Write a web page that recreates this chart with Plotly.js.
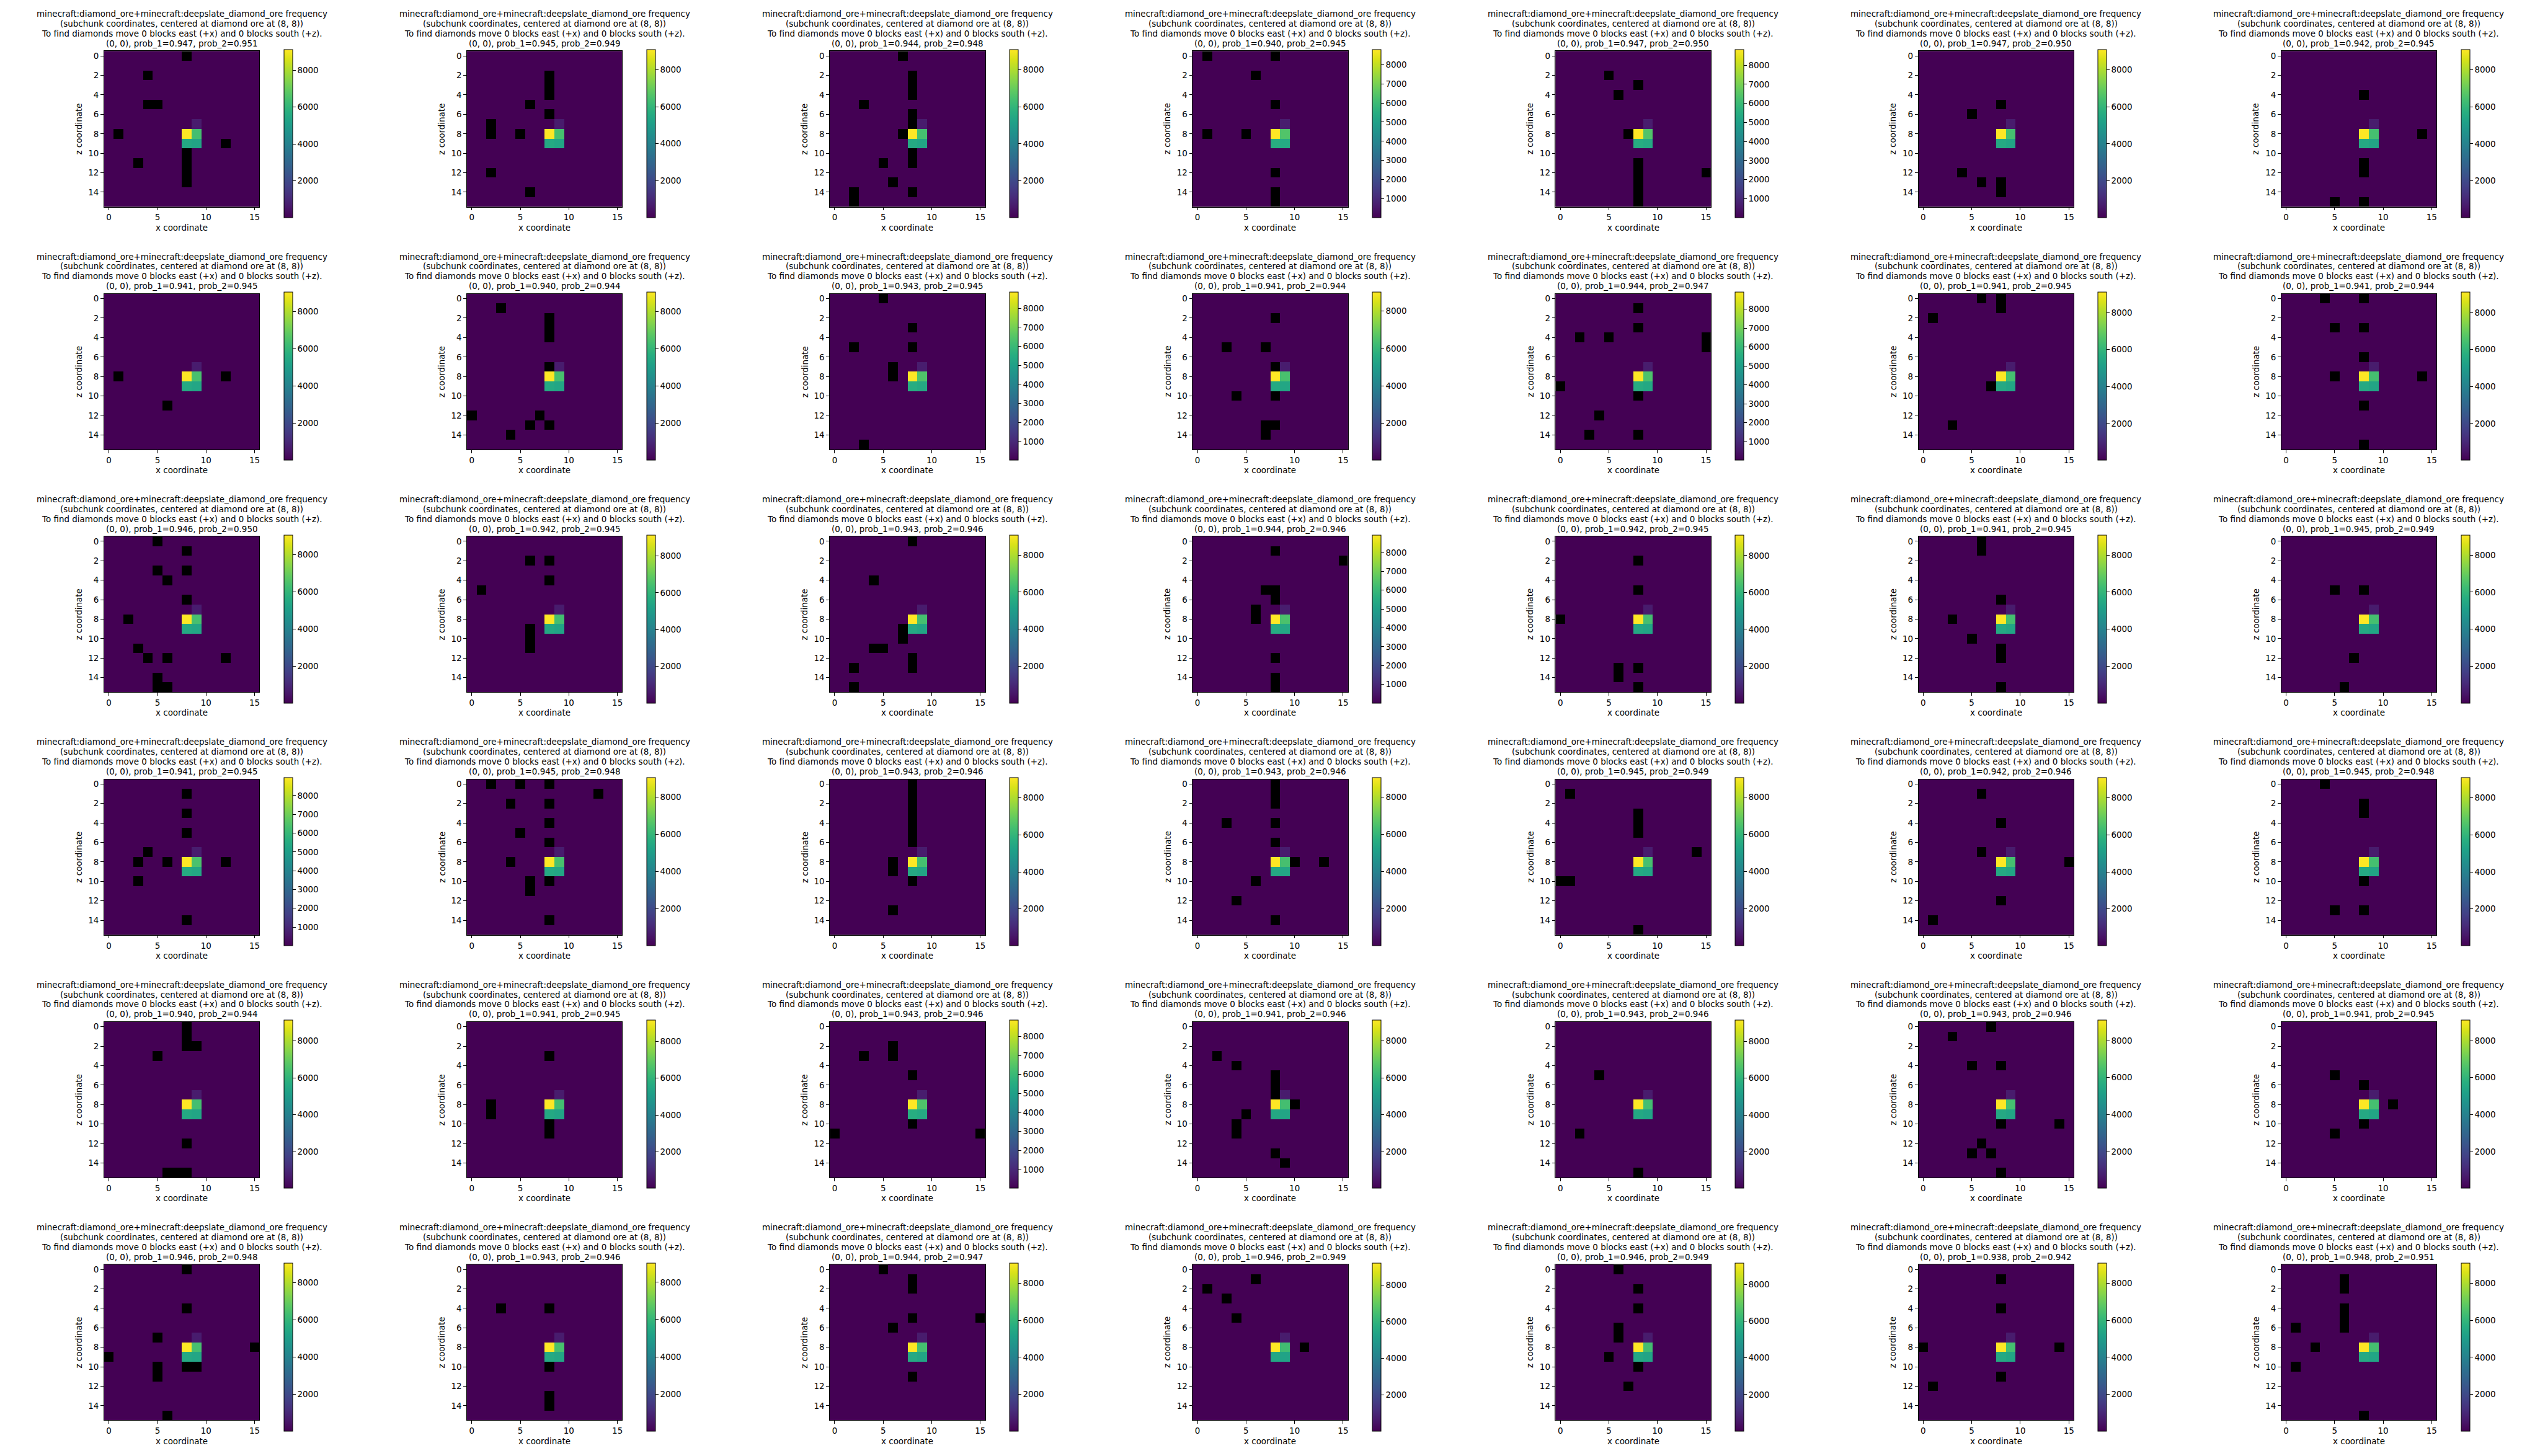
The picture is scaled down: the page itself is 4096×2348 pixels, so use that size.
<!DOCTYPE html>
<html>
<head>
<meta charset="utf-8">
<script src="https://cdn.plot.ly/plotly-3.0.1.min.js"></script>
<style>html,body{margin:0;padding:0;background:#fff;}#chart{width:4096px;height:2348px;}</style>
</head>
<body>
<div id="chart"></div>
<script>
// ---------------- data ----------------
const nRows = 6, nCols = 7, gridSize = 16;
const xTicks = [0, 5, 10, 15];
const zTicks = [0, 2, 4, 6, 8, 10, 12, 14];
const titleLine1 = "minecraft:diamond_ore+minecraft:deepslate_diamond_ore frequency";
const titleLine2 = "(subchunk coordinates, centered at diamond ore at (8, 8))";
const titleLine3 = "To find diamonds move 0 blocks east (+x) and 0 blocks south (+z).";
const xLabel = "x coordinate";
const zLabel = "z coordinate";

const prob1 = [0.947,0.945,0.944,0.940,0.947,0.947,0.942,
               0.941,0.940,0.943,0.941,0.944,0.941,0.941,
               0.946,0.942,0.943,0.944,0.942,0.941,0.945,
               0.941,0.945,0.943,0.943,0.945,0.942,0.945,
               0.940,0.941,0.943,0.941,0.943,0.943,0.941,
               0.946,0.943,0.944,0.946,0.946,0.938,0.948];
const prob2 = [0.951,0.949,0.948,0.945,0.950,0.950,0.945,
               0.945,0.944,0.945,0.944,0.947,0.945,0.944,
               0.950,0.945,0.946,0.946,0.945,0.945,0.949,
               0.945,0.948,0.946,0.946,0.949,0.946,0.948,
               0.944,0.945,0.946,0.946,0.946,0.946,0.945,
               0.948,0.946,0.947,0.949,0.949,0.942,0.951];

// count at the centre cell (8, 8) = colour-bar maximum
const peakCount = [9120,9090,9100,8800,8830,9100,9100,
                   9040,9040,8850,9010,8900,9100,9100,
                   9060,9150,9100,8940,9120,9100,9100,
                   8960,9040,9100,9060,9060,9100,9100,
                   9120,9150,8850,9120,9150,9100,9100,
                   9060,9040,9100,9220,9170,9100,9100];
const cbarStep = [2000,2000,2000,1000,1000,2000,2000,
                  2000,2000,1000,2000,1000,2000,2000,
                  2000,2000,2000,1000,2000,2000,2000,
                  1000,2000,2000,2000,2000,2000,2000,
                  2000,2000,1000,2000,2000,2000,2000,
                  2000,2000,2000,2000,2000,2000,2000];
const baseCount = 15;        // every ordinary cell (darkest purple)
const eastCount = 6400;      // cell (9, 8)
const southCount = 5500;     // cell (8, 9)
const southEastCount = 5350; // cell (9, 9)
const northEastCount = 700;  // cell (9, 7)

// cells with no data (drawn black), as [x, z]
const emptyCells = [
 [[8,0],[4,2],[4,5],[5,5],[1,8],[12,9],[8,10],[8,11],[8,12],[8,13],[3,11]],
 [[8,2],[8,3],[8,4],[6,5],[8,6],[2,7],[2,8],[5,8],[2,12],[6,14]],
 [[7,0],[8,2],[8,3],[8,4],[3,5],[8,6],[8,7],[7,8],[8,10],[8,11],[5,11],[6,13],[2,14],[2,15],[8,14]],
 [[1,0],[8,0],[6,2],[8,5],[1,8],[5,8],[8,12],[8,14],[8,15]],
 [[5,2],[8,3],[6,4],[7,8],[8,11],[8,12],[8,13],[8,14],[8,15],[15,12]],
 [[8,5],[5,6],[4,12],[6,13],[8,13],[8,14]],
 [[8,4],[14,8],[8,11],[8,12],[5,15],[8,15]],

 [[1,8],[12,8],[6,11]],
 [[3,1],[8,2],[8,3],[8,4],[8,7],[0,12],[7,12],[6,13],[8,13],[4,14]],
 [[5,0],[8,3],[2,5],[8,5],[6,7],[6,8],[3,15]],
 [[8,2],[3,5],[7,5],[8,7],[4,10],[8,10],[7,13],[8,13],[7,14]],
 [[8,1],[8,3],[2,4],[5,4],[15,4],[15,5],[0,9],[8,10],[4,12],[3,14],[8,14]],
 [[6,0],[8,0],[8,1],[1,2],[7,9],[3,13]],
 [[4,0],[8,0],[5,3],[8,3],[8,6],[5,8],[14,8],[8,11],[8,15]],

 [[5,0],[8,1],[5,3],[8,3],[6,4],[8,6],[2,8],[3,11],[4,12],[6,12],[12,12],[5,14],[5,15],[6,15]],
 [[6,2],[8,2],[8,4],[1,5],[6,9],[6,10],[6,11]],
 [[8,0],[4,4],[7,9],[7,10],[4,11],[5,11],[8,12],[8,13],[2,13],[2,15]],
 [[8,1],[15,2],[7,5],[8,5],[8,6],[6,7],[6,8],[8,12],[8,14],[8,15]],
 [[8,2],[8,5],[0,8],[6,13],[6,14],[8,13],[8,15]],
 [[6,0],[6,1],[8,6],[3,8],[5,10],[8,11],[8,12],[8,15]],
 [[5,5],[8,5],[7,12],[6,15]],

 [[8,1],[8,3],[8,5],[4,7],[3,8],[6,8],[12,8],[3,10],[8,14]],
 [[2,0],[5,0],[8,0],[13,1],[4,2],[8,2],[8,4],[5,5],[8,6],[4,8],[6,10],[6,11],[8,10],[8,14]],
 [[8,0],[8,1],[8,2],[8,3],[8,4],[8,5],[8,6],[6,8],[6,9],[8,10],[6,13]],
 [[8,0],[8,1],[8,2],[3,4],[8,4],[8,6],[10,8],[13,8],[6,10],[4,12],[8,14]],
 [[1,1],[8,3],[8,4],[8,5],[14,7],[0,10],[1,10],[8,15]],
 [[6,1],[8,4],[6,7],[15,8],[8,12],[1,14]],
 [[4,0],[8,2],[8,3],[8,10],[5,13],[8,13]],

 [[8,0],[8,1],[8,2],[9,2],[5,3],[8,12],[6,15],[7,15],[8,15]],
 [[8,3],[2,8],[2,9],[8,10],[8,11]],
 [[6,2],[6,3],[3,3],[8,5],[8,10],[0,11],[15,11]],
 [[2,3],[4,4],[8,5],[8,6],[8,7],[10,8],[5,9],[4,10],[4,11],[8,13],[9,14]],
 [[4,5],[2,11],[8,15]],
 [[7,0],[3,1],[5,4],[8,4],[8,10],[14,10],[6,12],[5,13],[7,13],[8,15]],
 [[5,5],[8,6],[11,8],[8,10],[5,11]],

 [[8,0],[8,4],[5,7],[15,8],[0,9],[5,10],[5,11],[8,10],[9,10],[6,15]],
 [[3,4],[8,4],[8,10],[8,13],[8,14]],
 [[5,0],[8,1],[8,2],[8,5],[15,5],[6,6],[8,11]],
 [[6,1],[1,2],[3,3],[4,5],[11,8]],
 [[6,0],[8,2],[8,4],[6,6],[6,7],[5,9],[8,10],[7,12]],
 [[8,1],[8,4],[0,8],[14,8],[8,11],[1,12]],
 [[6,1],[6,2],[6,4],[6,5],[6,6],[1,6],[3,8],[1,10],[8,15]]
];

// ---------------- layout geometry (reference pixels, scaled) ----------------
const W = 4096, H = 2348, K = 4096 / 4228;
const FS = 13.9 * K;
const FONT = "DejaVu Sans";
const colStep = 604, rowStep = 404;
const plotL0 = 173.2, plotW = 258.6, plotT0 = 85, plotH = 259.3;
const cbL0 = 472.5, cbT0 = 82.3, cbLen = 280, cbThick = 14;
const titleY = [23.4, 39.8, 56.2, 72.6];
const xLabelY = 379, zLabelX = 131.7;

const px = v => v * K / W;
const py = v => 1 - v * K / H;

const traces = [];
const annotations = [];
const layout = {
  width: W, height: H, autosize: false,
  margin: {l: 0, r: 0, t: 0, b: 0, pad: 0, autoexpand: false},
  paper_bgcolor: "white", plot_bgcolor: "black",
  showlegend: false,
  font: {family: FONT, size: FS, color: "black"},
  annotations: annotations
};

for (let i = 0; i < nRows * nCols; i++) {
  const r = Math.floor(i / nCols), c = i % nCols;
  const L = plotL0 + colStep * c, T = plotT0 + rowStep * r;
  const R = L + plotW, B = T + plotH;
  const cx = (L + R) / 2;

  // matrix of counts, z[row = z coord][col = x coord]
  const z = [];
  for (let zr = 0; zr < gridSize; zr++) {
    const row = [];
    for (let xc = 0; xc < gridSize; xc++) row.push(baseCount);
    z.push(row);
  }
  z[8][8] = peakCount[i];
  z[8][9] = eastCount;
  z[9][8] = southCount;
  z[9][9] = southEastCount;
  z[7][9] = northEastCount;
  emptyCells[i].forEach(([x, zz]) => { z[zz][x] = null; });

  const xs = [], ys = [];
  for (let k2 = 0; k2 < gridSize; k2++) { xs.push(k2); ys.push(k2); }

  const suf = i === 0 ? "" : String(i + 1);
  traces.push({
    type: "heatmap", z: z, x: xs, y: ys,
    xaxis: "x" + suf, yaxis: "y" + suf,
    colorscale: "Viridis", zmin: baseCount, zmax: peakCount[i],
    hoverinfo: "skip",
    showscale: true,
    colorbar: {
      x: px(cbL0 + colStep * c), xanchor: "left", xref: "paper",
      y: py(cbT0 + rowStep * r), yanchor: "top", yref: "paper",
      len: cbLen * K, lenmode: "pixels",
      thickness: cbThick * K, thicknessmode: "pixels",
      xpad: 0, ypad: 0,
      outlinewidth: 1, outlinecolor: "black",
      ticks: "outside", ticklen: 4.7, tickwidth: 1, tickcolor: "black",
      tick0: 0, dtick: cbarStep[i],
      tickfont: {family: FONT, size: FS, color: "black"}
    }
  });

  const axCommon = {
    showgrid: false, zeroline: false,
    showline: true, mirror: true, linecolor: "black", linewidth: 1,
    ticks: "outside", ticklen: 4.7, tickwidth: 1, tickcolor: "black",
    tickfont: {family: FONT, size: FS, color: "black"},
    fixedrange: true
  };
  layout["xaxis" + suf] = Object.assign({}, axCommon, {
    domain: [px(L), px(R)], anchor: "y" + suf,
    range: [-0.5, 15.5], tickmode: "array", tickvals: xTicks, ticktext: xTicks.map(String)
  });
  layout["yaxis" + suf] = Object.assign({}, axCommon, {
    domain: [py(B), py(T)], anchor: "x" + suf,
    range: [15.5, -0.5], tickmode: "array", tickvals: zTicks, ticktext: zTicks.map(String)
  });

  const lines = [titleLine1, titleLine2, titleLine3,
    "(0, 0), prob_1=" + prob1[i].toFixed(3) + ", prob_2=" + prob2[i].toFixed(3)];
  lines.forEach((t, j) => {
    annotations.push({
      text: t, x: px(cx), y: py(titleY[j] + rowStep * r),
      xref: "paper", yref: "paper", xanchor: "center", yanchor: "middle",
      showarrow: false, font: {family: FONT, size: FS, color: "black"}
    });
  });
  annotations.push({
    text: xLabel, x: px(cx), y: py(xLabelY + rowStep * r),
    xref: "paper", yref: "paper", xanchor: "center", yanchor: "middle",
    showarrow: false, font: {family: FONT, size: FS, color: "black"}
  });
  annotations.push({
    text: zLabel, x: px(zLabelX + colStep * c), y: py((T + B) / 2),
    xref: "paper", yref: "paper", xanchor: "center", yanchor: "middle",
    textangle: -90,
    showarrow: false, font: {family: FONT, size: FS, color: "black"}
  });
}

Plotly.newPlot("chart", traces, layout, {staticPlot: true, displayModeBar: false});
</script>
</body>
</html>
